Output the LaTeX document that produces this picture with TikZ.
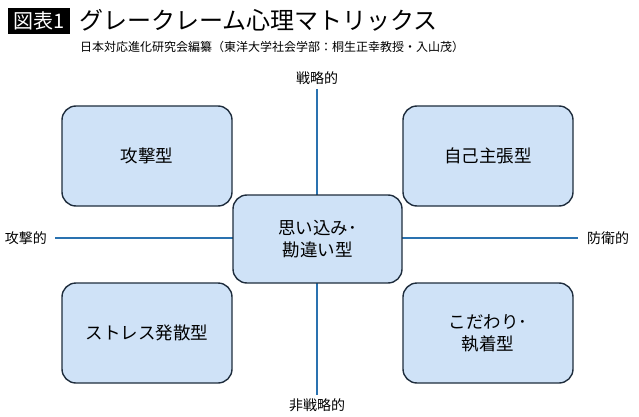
\documentclass[tikz,border=0pt]{standalone}
\usepackage{fontspec}
\setmainfont{Noto Sans CJK JP}
\begin{document}
\begin{tikzpicture}[x=1pt,y=-1pt,
  quad/.style={draw=boxline,fill=boxfill,line width=1.4pt,rounded corners=14pt,
    minimum width=170pt,minimum height=100pt,align=center,
    font=\fontsize{17.5}{22}\selectfont,inner sep=0pt},
  axislabel/.style={font=\fontsize{14}{16}\selectfont,inner sep=1pt},
  axis/.style={draw=axisblue,line width=2.6pt}]
\definecolor{boxfill}{HTML}{CFE2F7}
\definecolor{boxline}{HTML}{1F2D3D}
\definecolor{axisblue}{HTML}{2A72B0}
\useasboundingbox (0,0) rectangle (639,417);
% title
\node[fill=black,text=white,minimum width=62pt,minimum height=26pt,inner sep=0pt,
  font=\fontsize{20}{22}\selectfont] (tag) at (39,21) {図表1};
\node[anchor=west,inner sep=0pt,font=\fontsize{24}{26}\selectfont] (title) at (79,20) {グレークレーム心理マトリックス};
\node[anchor=west,inner sep=0pt,font=\fontsize{12}{14}\selectfont] (sub) at (80,47) {日本対応進化研究会編纂（東洋大学社会学部：桐生正幸教授・入山茂）};
% axis labels
\node[axislabel] (top) at (317,78) {戦略的};
\node[axislabel] (bottom) at (317,405) {非戦略的};
\node[axislabel] (left) at (26,238) {攻撃的};
\node[axislabel] (right) at (608,238) {防衛的};
\coordinate (vt) at (317,89);
\coordinate (vb) at (317,395);
\coordinate (hl) at (55,238);
\coordinate (hr) at (578,238);
\draw[axis] (vt) -- (vb);
\draw[axis] (hl) -- (hr);
% boxes
\node[quad] (tl) at (147,156) {攻撃型};
\node[quad] (tr) at (488,156) {自己主張型};
\node[quad] (bl) at (147,333) {ストレス発散型};
\node[quad] (br) at (488,333) {こだわり･\\執着型};
\node[quad,minimum width=169pt,minimum height=88pt] (c) at (317.5,239) {思い込み･\\勘違い型};
\end{tikzpicture}
\end{document}
